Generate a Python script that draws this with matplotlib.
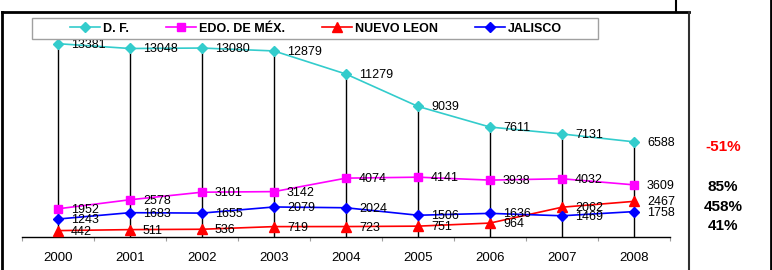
import matplotlib
matplotlib.use("Agg")
import matplotlib.pyplot as plt
from matplotlib.lines import Line2D
from matplotlib.patches import Rectangle

plt.rcParams['font.family'] = ['Liberation Sans', 'DejaVu Sans']

years = ["2000", "2001", "2002", "2003", "2004", "2005", "2006", "2007", "2008"]
df_vals = [13381, 13048, 13080, 12879, 11279, 9039, 7611, 7131, 6588]
edomex_vals = [1952, 2578, 3101, 3142, 4074, 4141, 3938, 4032, 3609]
nl_vals = [442, 511, 536, 719, 723, 751, 964, 2062, 2467]
jal_vals = [1243, 1683, 1655, 2079, 2024, 1506, 1636, 1469, 1758]
names = ["D. F.", "EDO. DE MÉX.", "NUEVO LEON", "JALISCO"]

W, H = 772, 270
fig = plt.figure(figsize=(W / 100, H / 100), dpi=100)


def fx(x):
    return x / W


def fy(y):
    return 1 - y / H


# plot area in pixels: x 22..670, y(0) at 237
ax = fig.add_axes([fx(22), fy(237), 648 / W, 216.7 / H])
ax.set_facecolor("none")

x = list(range(len(years)))
series = [
    (df_vals, "#33CCCC", "D", 5.5),
    (edomex_vals, "#FF00FF", "s", 6),
    (nl_vals, "#FF0000", "^", 6.5),
    (jal_vals, "#0000FF", "D", 5.5),
]

# drop lines from the highest point down to the axis
tops = [max(v) for v in zip(df_vals, edomex_vals, nl_vals, jal_vals)]
ax.vlines(x, 0, tops, color="black", lw=1, zorder=1)

handles = []
for (vals, col, mk, ms), name in zip(series, names):
    h, = ax.plot(x, vals, color=col, lw=1.2, marker=mk, markersize=ms,
                 markeredgecolor=col, markerfacecolor=col, zorder=3, label=name)
    handles.append(h)
    for xi, v in zip(x, vals):
        ax.annotate(str(v), (xi, v), xytext=(13, -1), textcoords="offset pixels",
                    ha="left", va="center", fontsize=9, color="black", zorder=4)

ax.set_xlim(-0.5, len(years) - 0.5)
ax.set_ylim(0, 15000)
for s in ["left", "top", "right"]:
    ax.spines[s].set_visible(False)
ax.spines["bottom"].set_color("black")
ax.spines["bottom"].set_linewidth(1)
ax.set_yticks([])

ax.set_xticks([i - 0.5 for i in range(len(years) + 1)])
ax.set_xticklabels([])
ax.tick_params(axis="x", which="major", length=3, color="#A0A0A0", direction="out")
ax.set_xticks(x, minor=True)
ax.set_xticklabels(years, minor=True)
ax.tick_params(axis="x", which="minor", length=0, pad=11, labelsize=9.5)

# legend with its own box
fig.legend(handles=handles, loc="center", bbox_to_anchor=(fx(316), fy(28.5)),
           ncol=4, frameon=False, prop={"weight": "bold", "size": 9},
           handlelength=2.4, handletextpad=0.3, columnspacing=2.9)
fig.patches.append(Rectangle((fx(32), fy(39)), fx(598) - fx(32), fy(18) - fy(39),
                             transform=fig.transFigure, fill=False,
                             edgecolor="#A0A0A0", lw=1))

# change 2000 -> 2008
pct_y = [147, 187, 207, 226]
for vals, py in zip([df_vals, edomex_vals, nl_vals, jal_vals], pct_y):
    pct = round((vals[-1] / vals[0] - 1) * 100)
    fig.text(fx(723), fy(py), f"{pct}%", ha="center", va="center",
             fontsize=11, fontweight="bold",
             color="#FF0000" if pct < 0 else "black")

# outer frame lines
frame = [
    ((2, 689), (12, 12), 2, "black"),
    ((2, 2), (12, 270), 2, "black"),
    ((689, 689), (12, 270), 1.5, "#303030"),
    ((676, 676), (0, 12), 1.5, "black"),
    ((771, 771), (0, 270), 2, "black"),
]
for xs, ys, lw, col in frame:
    fig.lines.append(Line2D([fx(v) for v in xs], [fy(v) for v in ys],
                            transform=fig.transFigure, color=col, lw=lw))

fig.savefig("out.png", dpi=100)
